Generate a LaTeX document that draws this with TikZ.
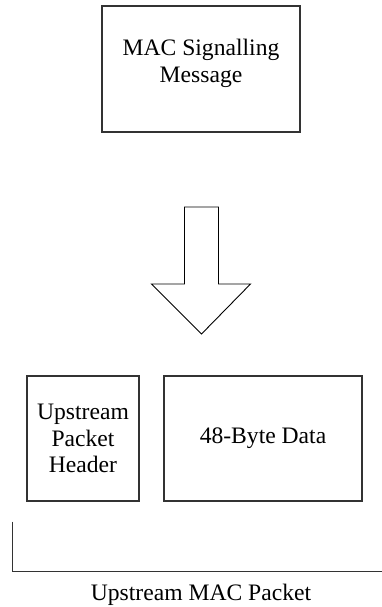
\documentclass[tikz,border=0pt]{standalone}
\usepackage{fontspec}
\setmainfont{Liberation Serif}
\begin{document}
\begin{tikzpicture}[x=1pt,y=-1pt,
  boxst/.style={draw=black!80, line width=1.1pt, inner sep=0pt, align=center,
    font=\fontsize{23.6}{26.5}\selectfont},
  lbl/.style={inner sep=0pt, font=\fontsize{23.6}{26.5}\selectfont}]
\useasboundingbox (0,0) rectangle (381,607);
% top box
\node[boxst, minimum width=198pt, minimum height=126pt] (msg) at (201,69) {MAC Signalling\\Message\\[-18pt]\strut};
% block arrow
\coordinate (a1) at (184.5,207);
\draw[line width=0.9pt, line join=miter] (a1) -- (218.5,207) -- (218.5,284) -- (250.5,284) -- (201.5,334)
  -- (151.5,284) -- (184.5,284) -- cycle;
% bottom boxes
\node[boxst, minimum width=112pt, minimum height=125pt] (hdr) at (83,438.5) {Upstream\\Packet\\Header};
\node[boxst, minimum width=198pt, minimum height=125pt] (data) at (263,438.5) {48-Byte Data};
% bracket
\coordinate (bt) at (12.5,521.5);
\coordinate (bc) at (12.5,571.5);
\coordinate (br) at (390,571.5);
\draw[line width=1pt, black!80] (bt) -- (bc) -- (br);
\node[lbl, anchor=base] (pkt) at (201,600) {Upstream MAC Packet};
\end{tikzpicture}
\end{document}
